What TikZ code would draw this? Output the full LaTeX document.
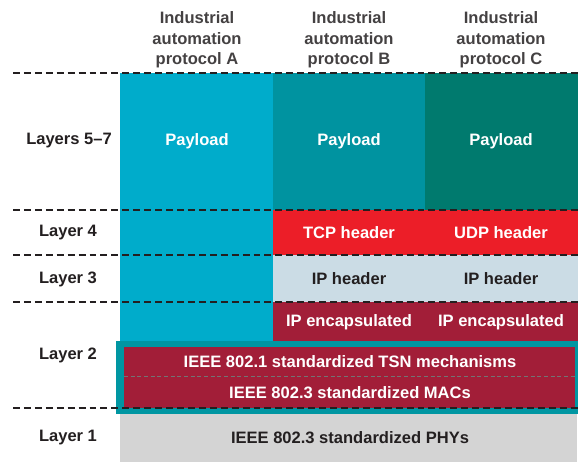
\documentclass[tikz,border=0pt]{standalone}
\usepackage{fontspec}
\setmainfont{Liberation Sans}
\definecolor{colA}{RGB}{0,172,203}
\definecolor{colB}{RGB}{0,147,160}
\definecolor{colC}{RGB}{0,122,110}
\definecolor{tcpred}{RGB}{236,30,40}
\definecolor{iplight}{RGB}{203,220,229}
\definecolor{darkred}{RGB}{162,30,56}
\definecolor{frameteal}{RGB}{0,150,162}
\definecolor{phygray}{RGB}{212,212,212}
\definecolor{ink}{RGB}{35,31,32}
\begin{document}
\begin{tikzpicture}[x=0.75pt,y=-0.75pt,
  txt/.style={font=\fontsize{12.4}{15.4}\selectfont\bfseries, inner sep=0pt, align=center},
  wtxt/.style={txt, text=white},
  btxt/.style={txt, text=ink},
  hdr/.style={txt, text=ink!85},
  lbl/.style={txt, text=ink},
  dline/.style={line width=1.7pt, dash pattern=on 5.2pt off 3pt, draw=ink},
  thindash/.style={line width=0.5pt, dash pattern=on 3pt off 2pt, draw=black!55}]
\useasboundingbox (0,0) rectangle (580,465);
% columns
\fill[colA] (120,73) rectangle (273,341);
\fill[colB] (273,73) rectangle (425,210);
\fill[colC] (425,73) rectangle (578,210);
\fill[tcpred] (273,210) rectangle (578,255);
\fill[iplight] (273,255) rectangle (578,302);
\fill[darkred] (273,302) rectangle (578,341);
% layer 2 frame
\fill[frameteal] (116,341) rectangle (578,414);
\fill[darkred] (124,347) rectangle (575,408);
\coordinate (m1) at (124,376);
\coordinate (m2) at (575,376);
\draw[thindash] (m1) -- (m2);
% layer 1
\fill[phygray] (120,414) rectangle (577,462);
% dashed layer lines
\foreach \yy/\nm in {73/a,210/b,255/c,302/d,408/e}{
  \coordinate (l\nm) at (13,\yy);
  \coordinate (r\nm) at (580,\yy);
  \draw[dline] (l\nm) -- (r\nm);
}
% headers
\node[hdr] (hA) at (197,40) {Industrial\\automation\\protocol A};
\node[hdr] (hB) at (349,40) {Industrial\\automation\\protocol B};
\node[hdr] (hC) at (501,40) {Industrial\\automation\\protocol C};
% layer labels
\node[lbl] (L57) at (69,141) {Layers 5–7};
\node[lbl] (L4) at (68,233) {Layer 4};
\node[lbl] (L3) at (68,279) {Layer 3};
\node[lbl] (L2) at (68,355) {Layer 2};
\node[lbl] (L1) at (68,438) {Layer 1};
% contents
\node[wtxt] (pA) at (197,141) {Payload};
\node[wtxt] (pB) at (349,141) {Payload};
\node[wtxt] (pC) at (501,141) {Payload};
\node[wtxt] (tcp) at (349,233) {TCP header};
\node[wtxt] (udp) at (501,233) {UDP header};
\node[btxt] (ipB) at (349,279) {IP header};
\node[btxt] (ipC) at (501,279) {IP header};
\node[wtxt] (encB) at (349,322) {IP encapsulated};
\node[wtxt] (encC) at (501,322) {IP encapsulated};
\node[wtxt] (tsn) at (350,362) {IEEE 802.1 standardized TSN mechanisms};
\node[wtxt] (mac) at (350,393) {IEEE 802.3 standardized MACs};
\node[btxt] (phy) at (350,438) {IEEE 802.3 standardized PHYs};
\end{tikzpicture}
\end{document}
